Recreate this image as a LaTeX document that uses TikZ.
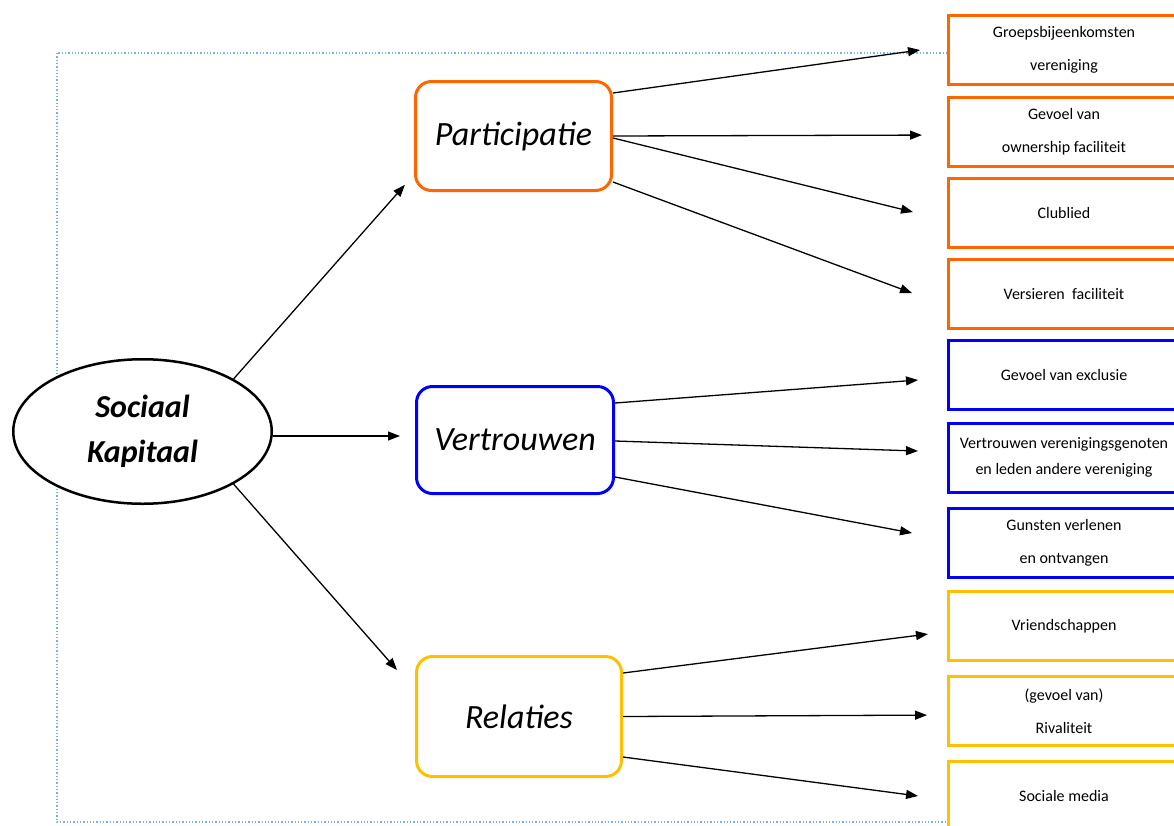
\documentclass[tikz,border=0pt]{standalone}
\usepackage{fontspec}
\setmainfont{Carlito}
\usetikzlibrary{arrows.meta,shapes.geometric}
\definecolor{orng}{RGB}{255,102,0}
\definecolor{blu}{RGB}{0,0,255}
\definecolor{yel}{RGB}{255,192,0}
\definecolor{dotblue}{RGB}{120,175,240}
\begin{document}
\begin{tikzpicture}[x=1pt,y=-1pt,
  arr/.style={-{Triangle[length=12pt,width=9pt]},line width=1.3pt,black},
  catbox/.style={rectangle,rounded corners=16pt,line width=3pt,fill=white,inner sep=0pt,font=\fontsize{34}{40}\selectfont\itshape},
  itembox/.style={rectangle,line width=3pt,fill=white,minimum width=231pt,minimum height=69pt,inner sep=0pt,align=center,font=\fontsize{16}{33}\selectfont},
]
\useasboundingbox (0,0) rectangle (1174,825);
\clip (0,0) rectangle (1174,825);
\fill[white] (0,0) rectangle (1174,825);
\draw[dotblue,dotted,line width=1.3pt] (57,53) rectangle (1200,822);

% central ellipse
\node[ellipse,draw,line width=2.5pt,fill=white,minimum width=258.5pt,minimum height=144.5pt,inner sep=0pt,align=center,font=\fontsize{32}{45}\selectfont\bfseries\itshape] (E) at (142.5,431.5) {Sociaal\\Kapitaal};

% categories
\node[catbox,draw=orng,minimum width=196pt,minimum height=109pt] (P) at (513.5,136) {Participatie};
\node[catbox,draw=blu,minimum width=197pt,minimum height=107pt] (V) at (515,440) {Vertrouwen};
\node[catbox,draw=yel,minimum width=205pt,minimum height=120pt] (R) at (519,716.5) {Relaties};

% items
\node[itembox,draw=orng] (O1) at (1064,50) {Groepsbijeenkomsten\\vereniging};
\node[itembox,draw=orng] (O2) at (1064,131.5) {Gevoel van\\ownership faciliteit};
\node[itembox,draw=orng] (O3) at (1064,212.5) {Clublied};
\node[itembox,draw=orng] (O4) at (1064,293.5) {Versieren\ \ faciliteit};
\node[itembox,draw=blu] (B1) at (1064,375) {Gevoel van exclusie};
\node[itembox,draw=blu,font=\fontsize{16}{26}\selectfont] (B2) at (1064,457.5) {Vertrouwen verenigingsgenoten\\en leden andere vereniging};
\node[itembox,draw=blu] (B3) at (1064,542.5) {Gunsten verlenen\\en ontvangen};
\node[itembox,draw=yel] (Y1) at (1064,626) {Vriendschappen};
\node[itembox,draw=yel] (Y2) at (1064,711) {(gevoel van)\\Rivaliteit};
\node[itembox,draw=yel] (Y3) at (1064,796) {Sociale media};

% arrows from ellipse
\draw[arr,shorten >=13.8pt] (E.30) -- ([yshift=-38.5pt]P.west);
\draw[arr,shorten >=15pt] ([yshift=-4.5pt]E.east) -- ([yshift=4pt]V.west);
\draw[arr,shorten >=27.3pt] (E.-30) -- ([yshift=26pt]R.west);

% participatie
\draw[arr,shorten >=27.3pt] ([yshift=43pt]P.east) -- ([yshift=3.8pt]O1.west);
\draw[arr,shorten >=25pt] (P.east) -- ([yshift=-3.5pt]O2.west);
\draw[arr,shorten >=35pt] ([yshift=-2pt]P.east) -- ([yshift=-7.9pt]O3.west);
\draw[arr,shorten >=37.3pt] ([yshift=-46pt]P.east) -- ([yshift=-12.5pt]O4.west);

% vertrouwen
\draw[arr,shorten >=29.1pt] ([yshift=37pt]V.east) -- ([yshift=-2.8pt]B1.west);
\draw[arr,shorten >=29pt] ([yshift=-1pt]V.east) -- ([yshift=5.5pt]B2.west);
\draw[arr,shorten >=35.6pt] ([yshift=-37pt]V.east) -- ([yshift=2.9pt]B3.west);

% relaties
\draw[arr,shorten >=19.2pt] ([yshift=43.5pt]R.east) -- ([yshift=-5.6pt]Y1.west);
\draw[arr,shorten >=20pt] (R.east) -- ([yshift=-4pt]Y2.west);
\draw[arr,shorten >=29.2pt] ([yshift=-40.5pt]R.east) -- ([yshift=-3.8pt]Y3.west);
\end{tikzpicture}
\end{document}
